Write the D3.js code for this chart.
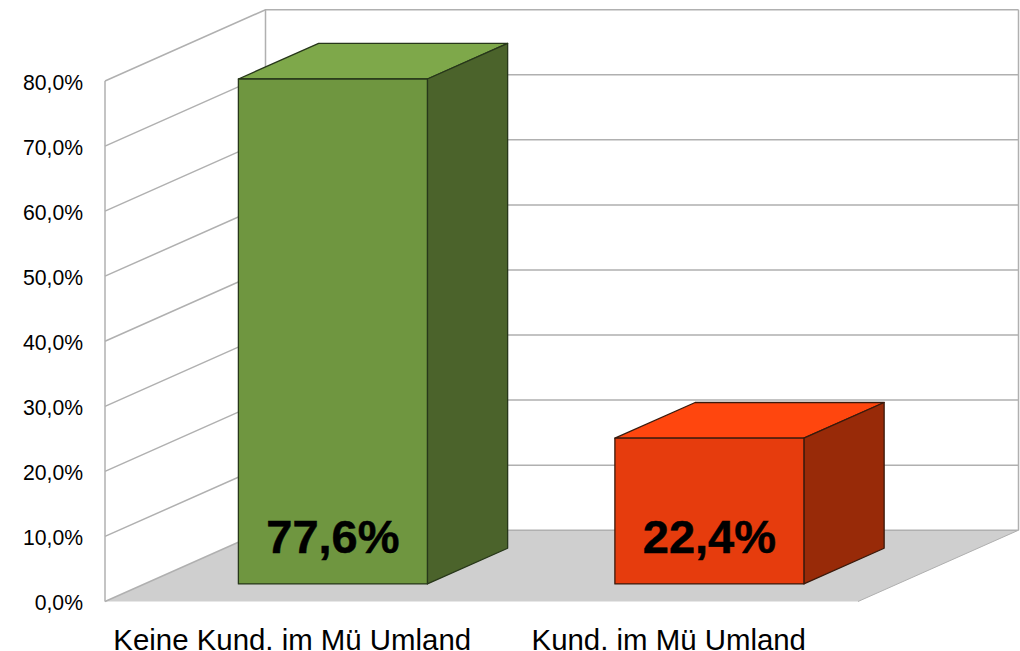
<!DOCTYPE html>
<html><head><meta charset="utf-8">
<script src="https://cdn.jsdelivr.net/npm/d3@7"></script>
<style>html,body{margin:0;padding:0;background:#fff;overflow:hidden}svg{display:block}text{font-family:"Liberation Sans",Arial,sans-serif}</style>
</head><body><div id="c"></div>
<script>
const categories = ["Keine Kund. im Mü Umland", "Kund. im Mü Umland"];
const values = [77.6, 22.4];
const tickValues = [0,10,20,30,40,50,60,70,80];
const frontColors = ["#6f9640", "#e63c0d"];
const topColors = ["#7ea84a", "#ff460e"];
const sideColors = ["#4b632b", "#982a08"];
const edgeColors = ["#27371a", "#3a1a0c"];

const W=1020,H=651;
const svg=d3.select("#c").append("svg").attr("width",W).attr("height",H);
const y=d3.scaleLinear().domain([0,80]).range([601.5,81]);
const x=d3.scaleBand().domain(categories).range([105,858]).paddingInner(0.498).paddingOuter(0.249);
const dx=d3.scaleLinear().domain([0,1]).range([0,160.5]);
const dy=d3.scaleLinear().domain([0,1]).range([0,-71.3]);
const P=(px,v,d)=>[px+dx(d),y(v)+dy(d)];
const line=d3.line();
const grid="#b0b0b0";
const xL=x.range()[0],xR=x.range()[1];

// floor
svg.append("path").attr("d",line([P(xL,0,0),P(xL,0,1),P(xR,0,1),P(xR,0,0)])+"Z").attr("fill","#cfcfcf");
// gridlines on side wall and back wall
svg.append("g").selectAll("path").data(tickValues).join("path")
  .attr("d",v=>line([P(xL,v,0),P(xL,v,1),P(xR,v,1)]))
  .attr("fill","none").attr("stroke",grid).attr("stroke-width",1.5);
[[xL,0],[xL,1],[xR,1]].forEach(([px,d])=>{
  svg.append("path").attr("d",line([P(px,0,d),P(px,80,d)])).attr("fill","none").attr("stroke",grid).attr("stroke-width",1.5);
});
svg.append("path").attr("d",line([P(xR,0,0),P(xR,0,1)])).attr("fill","none").attr("stroke",grid).attr("stroke-width",1);

// axis labels
const fmt=d3.formatLocale({decimal:",",thousands:".",grouping:[3],currency:["","%"]}).format(".1f");
const ax=svg.append("g").attr("transform","translate(83,0)")
  .call(d3.axisLeft(y).tickValues(tickValues).tickSize(0).tickPadding(0).tickFormat(v=>fmt(v)+"%"));
ax.select(".domain").remove();
ax.selectAll("text").attr("font-size",21.2).attr("fill","#000").attr("font-family","Liberation Sans").attr("dy","0.38em");

// bars
const d0=0.247,d1=0.747;
const bars=svg.append("g").selectAll("g").data(values).join("g");
const xs=(i)=>x(categories[i]), xe=(i)=>x(categories[i])+x.bandwidth();
const barStyle=s=>s.attr("stroke",(v,i)=>edgeColors[i]).attr("stroke-width",1.3).attr("stroke-linejoin","round");
bars.append("path").attr("d",(v,i)=>line([P(xs(i),v,d0),P(xs(i),v,d1),P(xe(i),v,d1),P(xe(i),v,d0)])+"Z")
  .attr("fill",(v,i)=>topColors[i]).call(barStyle);
bars.append("path").attr("d",(v,i)=>line([P(xe(i),0,d0),P(xe(i),v,d0),P(xe(i),v,d1),P(xe(i),0,d1)])+"Z")
  .attr("fill",(v,i)=>sideColors[i]).call(barStyle);
bars.append("path").attr("d",(v,i)=>line([P(xs(i),0,d0),P(xs(i),v,d0),P(xe(i),v,d0),P(xe(i),0,d0)])+"Z")
  .attr("fill",(v,i)=>frontColors[i]).call(barStyle);
bars.append("text").text(v=>fmt(v)+"%")
  .attr("x",(v,i)=>P(xs(i)+x.bandwidth()/2,0,d0)[0])
  .attr("y",553).attr("text-anchor","middle").attr("font-size",47).attr("font-weight","bold")
  .attr("fill","#000").attr("stroke","#000").attr("stroke-width",0.5);

// category labels
svg.append("g").selectAll("text").data(categories).join("text").text(d=>d)
  .attr("x",d=>x(d)+x.bandwidth()/2-1).attr("y",650).attr("text-anchor","middle")
  .attr("font-size",29.4).attr("fill","#000");
</script></body></html>
